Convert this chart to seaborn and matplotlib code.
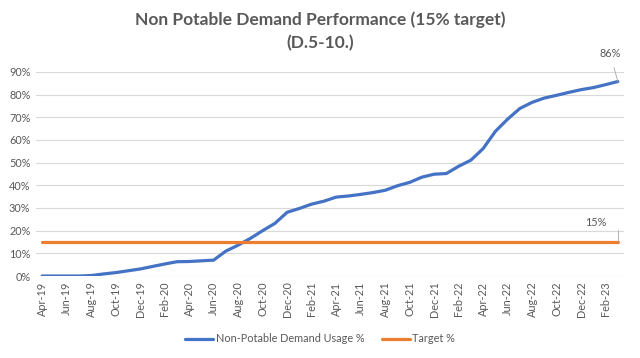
import matplotlib
matplotlib.use("Agg")
import pandas as pd
import numpy as np
import seaborn as sns
from matplotlib import pyplot as plt

# monthly categories, Apr-19 .. Mar-23
months = pd.date_range("2019-04-01", "2023-03-01", freq="MS").strftime("%b-%y").tolist()

usage_pct = [0.0, 0.0, 0.0, 0.0, 0.2, 0.9, 1.5, 2.3, 3.1, 4.2,
             5.3, 6.3, 6.4, 6.7, 7.0, 11.0, 13.6, 16.6, 20.0, 23.2,
             28.1, 29.8, 31.7, 33.0, 34.8, 35.3, 36.0, 36.8, 37.8, 39.8,
             41.3, 43.6, 44.9, 45.2, 48.4, 51.1, 56.2, 63.8, 69.2, 73.9,
             76.6, 78.5, 79.7, 81.0, 82.2, 83.1, 84.4, 85.8]
target_pct = [15.0] * len(months)

series_names = ["Non-Potable Demand Usage %", "Target %"]

df = pd.DataFrame({
    "idx": list(range(len(months))) * 2,
    "month": months * 2,
    "value": np.array(usage_pct + target_pct) / 100,
    "series": [series_names[0]] * len(months) + [series_names[1]] * len(months),
})

sns.set_theme(style="white")
plt.rcParams['font.family'] = ['Lato', 'DejaVu Sans']
text_col = "#595959"

fig = plt.figure(figsize=(6.4, 3.58), dpi=100)
ax = fig.add_axes([0.05625, 0.229, 0.91875, 0.57])

sns.lineplot(data=df, x="idx", y="value", hue="series",
             palette=["#4472C4", "#ED7D31"], linewidth=2.3, ax=ax, legend=True)

ax.set_xlim(-0.5, len(months) - 0.5)
ax.set_ylim(0, 0.9)
ax.set_yticks(np.arange(0, 0.91, 0.1))
ax.set_yticklabels([f"{int(round(v * 100))}%" for v in np.arange(0, 0.91, 0.1)],
                   fontsize=7.8, color=text_col)
ax.set_xticks(range(0, len(months), 2))
ax.set_xticklabels(months[::2], rotation=90, fontsize=7.8, color=text_col)
ax.tick_params(axis="both", length=0, pad=4)
ax.grid(axis="y", color="#D9D9D9", linewidth=0.8)
for s in ax.spines.values():
    s.set_visible(False)
ax.set_xlabel("")
ax.set_ylabel("")

fig.text(0.5, 1 - 20 / 358, "Non Potable Demand Performance (15% target)",
         ha="center", va="center", fontsize=12.5, fontweight="bold", color=text_col)
fig.text(0.5, 1 - 43 / 358, "(D.5-10.)",
         ha="center", va="center", fontsize=12.5, fontweight="bold", color=text_col)

# data labels for last points
last = len(months) - 1
ax.annotate("86%", xy=(last, usage_pct[-1] / 100), xytext=(-8, 28),
            textcoords="offset pixels", ha="center", va="center",
            fontsize=7.8, color=text_col,
            arrowprops=dict(arrowstyle="-", color="#A6A6A6", lw=0.6,
                            shrinkA=4, shrinkB=0), annotation_clip=False)
ax.annotate("15%", xy=(last, target_pct[-1] / 100), xytext=(-22, 20),
            textcoords="offset pixels", ha="center", va="center",
            fontsize=7.8, color=text_col,
            arrowprops=dict(arrowstyle="-", color="#A6A6A6", lw=0.6,
                            shrinkA=8, shrinkB=0,
                            connectionstyle="angle,angleA=0,angleB=90,rad=0"),
            annotation_clip=False)

ax.get_legend().remove()
handles, labels = ax.get_legend_handles_labels()
leg = fig.legend(handles, labels, loc="center",
                 bbox_to_anchor=(0.5, 1 - 339 / 358), ncol=2,
                 frameon=False, fontsize=7.8, handlelength=2.6,
                 columnspacing=1.6, handletextpad=0.2)
for t in leg.get_texts():
    t.set_color(text_col)

fig.savefig("out.png", dpi=100, facecolor="white")
